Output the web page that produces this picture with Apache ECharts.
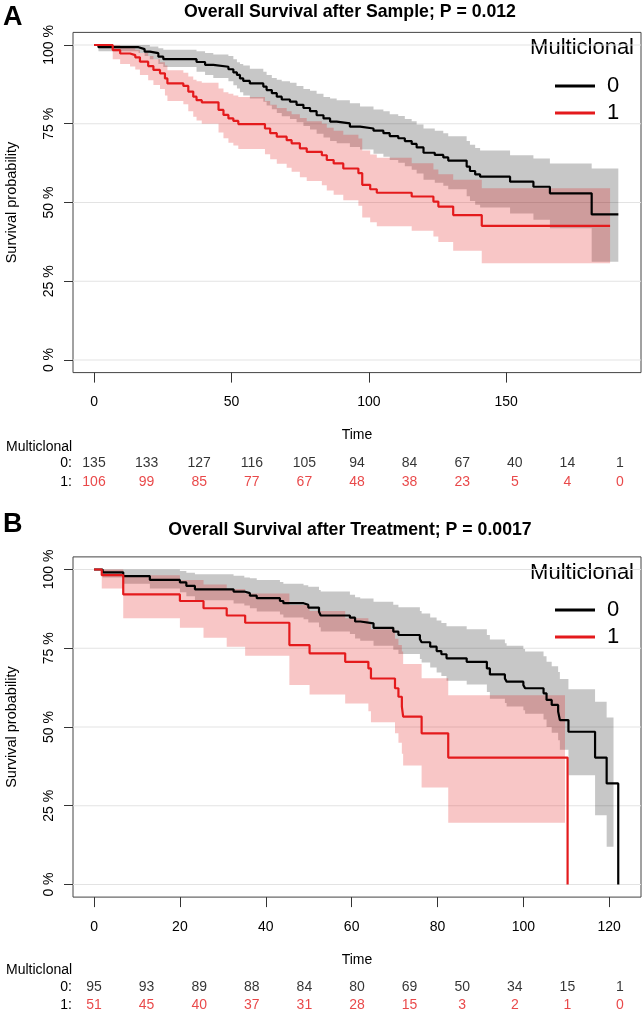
<!DOCTYPE html>
<html><head><meta charset="utf-8">
<script src="https://cdn.jsdelivr.net/npm/echarts@6/dist/echarts.min.js"></script>
<style>html,body{margin:0;padding:0;background:#fff}#c{width:643px;height:1014px}</style>
</head><body><div id="c"></div>
<script>
// ---------- DATA ----------
const titleA = 'Overall Survival after Sample; P = 0.012';
const titleB = 'Overall Survival after Treatment; P = 0.0017';
const groupNames = ['0', '1'];
const legendTitle = 'Multiclonal';
const yTicks = [0, 0.25, 0.5, 0.75, 1];
const xTicksA = [0, 50, 100, 150];
const xTicksB = [0, 20, 40, 60, 80, 100, 120];

// Panel A, group 0 (black)
const tA0 = [0,1.6,16.2,18.4,20.3,23.4,25.2,37.3,40.4,43.4,48.9,50.7,52.0,53.1,54.3,56.7,61.6,62.8,64.7,66.5,68.3,71.3,73.7,76.2,78.6,81.0,83.5,85.9,88.3,93.1,96.8,101.7,105.3,107.6,110.7,113.1,115.6,117.4,119.9,124.0,127.1,128.9,135.6,136.8,138.7,140.5,151.4,159.9,165.9,181.1];
const sA0 = [1,0.993,0.987,0.979,0.974,0.963,0.955,0.946,0.937,0.931,0.923,0.913,0.905,0.894,0.886,0.878,0.868,0.857,0.847,0.836,0.827,0.820,0.810,0.800,0.790,0.777,0.767,0.757,0.751,0.741,0.735,0.728,0.720,0.711,0.704,0.695,0.686,0.675,0.658,0.651,0.643,0.633,0.614,0.600,0.589,0.582,0.566,0.550,0.529,0.462];
const uA0 = [1,1,1,1,0.995,0.99,0.985,0.98,0.975,0.97,0.965,0.955,0.945,0.94,0.935,0.925,0.915,0.905,0.895,0.89,0.885,0.88,0.87,0.86,0.855,0.845,0.835,0.83,0.825,0.815,0.805,0.795,0.79,0.78,0.775,0.765,0.758,0.748,0.735,0.728,0.72,0.71,0.695,0.683,0.673,0.665,0.65,0.64,0.624,0.608];
const lA0 = [1,0.98,0.975,0.965,0.955,0.94,0.93,0.915,0.905,0.895,0.885,0.872,0.862,0.85,0.84,0.83,0.82,0.808,0.796,0.784,0.774,0.765,0.755,0.743,0.732,0.718,0.706,0.695,0.688,0.676,0.668,0.655,0.645,0.635,0.626,0.615,0.604,0.592,0.572,0.563,0.553,0.542,0.52,0.505,0.493,0.484,0.465,0.445,0.418,0.312];
const endA0 = 190.8;

// Panel A, group 1 (red)
const tA1 = [0,6.8,9.5,13.1,15.0,16.7,19.7,21.6,24.0,25.8,26.7,32.5,34.3,36.1,37.3,39.2,45.3,47.1,48.9,50.7,52.5,62.2,64.1,66.5,70.1,71.9,74.9,77.4,82.9,84.7,87.2,90.7,96.2,97.6,100.5,102.9,115.6,123.5,125.3,130.7,141.1];
const sA1 = [1,0.984,0.973,0.968,0.961,0.947,0.933,0.921,0.910,0.894,0.878,0.870,0.852,0.836,0.825,0.818,0.794,0.778,0.767,0.759,0.749,0.735,0.720,0.709,0.698,0.688,0.672,0.661,0.650,0.635,0.624,0.608,0.593,0.556,0.542,0.531,0.519,0.503,0.487,0.460,0.426];
const uA1 = [1,1,0.995,0.99,0.985,0.975,0.965,0.955,0.945,0.935,0.92,0.912,0.9,0.89,0.885,0.88,0.862,0.85,0.845,0.84,0.835,0.822,0.81,0.8,0.79,0.78,0.768,0.758,0.75,0.737,0.728,0.715,0.703,0.665,0.652,0.642,0.625,0.605,0.59,0.572,0.545];
const lA1 = [1,0.955,0.94,0.932,0.922,0.905,0.888,0.873,0.86,0.84,0.822,0.812,0.79,0.772,0.76,0.75,0.722,0.704,0.69,0.681,0.67,0.653,0.637,0.623,0.61,0.598,0.58,0.568,0.555,0.538,0.525,0.507,0.49,0.452,0.437,0.425,0.41,0.392,0.375,0.347,0.307];
const endA1 = 187.8;

// Panel B, group 0 (black)
const tB0 = [0,2.0,6.8,13.0,20.0,21.5,23.5,32.5,35.0,36.3,37.9,43.3,44.1,48.8,49.9,52.4,52.8,59.6,60.8,62.0,65.1,69.7,70.9,75.9,76.3,78.3,79.8,80.9,82.1,86.8,91.5,92.2,95.7,96.1,100.0,100.4,104.7,105.4,106.6,108.1,108.5,110.5,116.7,119.4,122.1];
const sB0 = [1,0.991,0.979,0.967,0.959,0.948,0.937,0.930,0.925,0.917,0.909,0.900,0.893,0.888,0.879,0.866,0.854,0.847,0.835,0.829,0.815,0.803,0.792,0.779,0.769,0.755,0.741,0.731,0.718,0.707,0.686,0.667,0.654,0.644,0.633,0.623,0.607,0.586,0.570,0.549,0.522,0.485,0.403,0.321,0];
const uB0 = [1,1,1,1,0.995,0.99,0.985,0.98,0.975,0.972,0.967,0.96,0.955,0.95,0.945,0.935,0.93,0.92,0.912,0.908,0.898,0.888,0.88,0.868,0.86,0.848,0.838,0.83,0.82,0.81,0.792,0.778,0.766,0.758,0.748,0.74,0.725,0.707,0.693,0.675,0.652,0.62,0.58,0.53];
const lB0 = [1,0.975,0.955,0.94,0.928,0.915,0.902,0.892,0.886,0.877,0.867,0.857,0.848,0.842,0.832,0.817,0.803,0.795,0.781,0.774,0.758,0.745,0.732,0.716,0.705,0.689,0.673,0.662,0.647,0.635,0.611,0.59,0.576,0.565,0.553,0.542,0.524,0.5,0.482,0.458,0.428,0.347,0.22,0.12];
const bandEndB0 = 121.0;

// Panel B, group 1 (red)
const tB1 = [0,1.8,6.8,20.0,25.5,30.9,35.2,45.5,50.2,58.5,63.9,64.5,70.1,70.9,71.7,72.0,76.3,82.5,110.3];
const sB1 = [1,0.982,0.921,0.900,0.877,0.854,0.831,0.760,0.734,0.707,0.686,0.654,0.623,0.596,0.565,0.533,0.480,0.403,0];
const uB1 = [1,1,0.982,0.967,0.952,0.938,0.924,0.887,0.868,0.845,0.83,0.81,0.78,0.76,0.74,0.70,0.655,0.601];
const lB1 = [1,0.94,0.845,0.815,0.783,0.755,0.726,0.633,0.603,0.575,0.55,0.515,0.48,0.45,0.415,0.378,0.308,0.196];
const bandEndB1 = 109.7;

// Numbers at risk
const riskRowLabels = ['1:', '0:'];
const riskA0 = [135,133,127,116,105,94,84,67,40,14,1];
const riskA1 = [106,99,85,77,67,48,38,23,5,4,0];
const riskB0 = [95,93,89,88,84,80,69,50,34,15,1];
const riskB1 = [51,45,40,37,31,28,15,3,2,1,0];

// ---------- STYLE ----------
const FONT = 'Liberation Sans, Arial, sans-serif';
const BLACK = '#000000';
const RED = '#E41A1C';
const GREY_BAND = 'rgba(0,0,0,0.22)';
const RED_BAND = 'rgba(228,26,28,0.25)';

function stepData(times, surv, endT) {
  const d = times.map((t, i) => [t, surv[i]]);
  if (endT != null) d.push([endT, surv[surv.length - 1]]);
  return d;
}
function bandSeries(times, upper, lower, endT, color, gi) {
  return {
    type: 'custom', xAxisIndex: gi, yAxisIndex: gi, silent: true, z: 2,
    data: [[0, 0]],
    renderItem: (params, api) => {
      const top = [], bot = [];
      for (let i = 0; i < upper.length; i++) {
        const x0 = times[i], x1 = (i + 1 < upper.length) ? times[i + 1] : endT;
        top.push(api.coord([x0, upper[i]]), api.coord([x1, upper[i]]));
        bot.push(api.coord([x0, lower[i]]), api.coord([x1, lower[i]]));
      }
      return { type: 'polygon', shape: { points: top.concat(bot.reverse()) }, style: { fill: color } };
    }
  };
}
function gridLineSeries(gi) {
  return {
    type: 'custom', xAxisIndex: gi, yAxisIndex: gi, silent: true, z: 1,
    data: yTicks.map(v => [0, v]),
    renderItem: (params, api) => {
      const cs = params.coordSys;
      const y = api.coord([0, api.value(1)])[1];
      return { type: 'line', shape: { x1: cs.x, y1: y, x2: cs.x + cs.width, y2: y },
               style: { stroke: '#e3e3e3', lineWidth: 1 } };
    }
  };
}
function lineSeries(name, data, color, gi) {
  return {
    type: 'line', name, step: 'end', data, color, xAxisIndex: gi, yAxisIndex: gi,
    showSymbol: false, symbol: 'none', z: 3, silent: true,
    lineStyle: { width: 2.2, color }
  };
}
function riskSeries(values, row, color, gi) {
  return {
    type: 'scatter', xAxisIndex: gi, yAxisIndex: gi, symbolSize: 1, silent: true,
    itemStyle: { color: 'transparent' },
    data: values.map((v, i) => [i, row, v]),
    label: { show: true, position: 'inside', formatter: p => String(p.value[2]),
             fontSize: 14, color, fontFamily: FONT }
  };
}
function plotXAxis(gi, min, max, ticks) {
  return {
    gridIndex: gi, type: 'value', min, max,
    axisLine: { show: false, onZero: false }, splitLine: { show: false },
    axisTick: { show: true, length: 10, customValues: ticks, lineStyle: { color: '#333' } },
    axisLabel: { customValues: ticks, fontSize: 14, color: '#000', margin: 23, fontFamily: FONT },
    name: 'Time', nameLocation: 'middle', nameGap: 56, nameMoveOverlap: false,
    nameTextStyle: { fontSize: 14, color: '#000', fontFamily: FONT }
  };
}
function plotYAxis(gi) {
  return {
    gridIndex: gi, type: 'value', min: -0.04, max: 1.04,
    axisLine: { show: false, onZero: false }, splitLine: { show: false },
    axisTick: { show: true, length: 9, customValues: yTicks, lineStyle: { color: '#333' } },
    axisLabel: { customValues: yTicks, rotate: 90, margin: 17, fontSize: 14, color: '#000',
                 fontFamily: FONT, formatter: v => Math.round(v * 100) + ' %' },
    name: 'Survival probability', nameLocation: 'middle', nameGap: 54, nameMoveOverlap: false,
    nameTextStyle: { fontSize: 14.5, color: '#000', fontFamily: FONT }
  };
}
function riskXAxis(gi, n) {
  return { gridIndex: gi, type: 'value', min: 0, max: n - 1, show: false };
}
function riskYAxis(gi) {
  return {
    gridIndex: gi, type: 'category', data: riskRowLabels,
    axisLine: { show: false }, axisTick: { show: false }, splitLine: { show: false },
    axisLabel: { interval: 0, margin: 22, fontSize: 14, color: '#000', fontFamily: FONT }
  };
}
function legendAt(top) {
  return {
    data: groupNames, orient: 'vertical', left: 550, top, icon: 'rect',
    itemWidth: 40, itemHeight: 3, itemGap: 5, selectedMode: false,
    textStyle: { fontSize: 22, lineHeight: 22, color: '#000', fontFamily: FONT, padding: [0, 0, 0, 7] }
  };
}
function txt(x, y, text, size, opts) {
  return {
    type: 'text', x, y, silent: true,
    style: Object.assign({ text, font: size + 'px ' + FONT, fill: '#000',
                           textVerticalAlign: 'middle', textAlign: 'left' }, opts || {})
  };
}
function plotGrid(top) {
  return { left: 73, top, width: 568, height: 340.2, show: true, borderColor: '#444', borderWidth: 1,
           backgroundColor: 'transparent', outerBoundsMode: 'none', containLabel: false };
}
function riskGrid(top, height) {
  return { left: 94, top, width: 526, height, outerBoundsMode: 'none', containLabel: false };
}

const option = {
  animation: false,
  backgroundColor: '#fff',
  grid: [plotGrid(32.4), riskGrid(453.5, 38), plotGrid(556.9), riskGrid(978, 36)],
  xAxis: [
    plotXAxis(0, -7.66, 199.05, xTicksA),
    riskXAxis(1, riskA0.length),
    plotXAxis(2, -4.9, 127.4, xTicksB),
    riskXAxis(3, riskB0.length)
  ],
  yAxis: [plotYAxis(0), riskYAxis(1), plotYAxis(2), riskYAxis(3)],
  legend: [legendAt(70), legendAt(594)],
  series: [
    gridLineSeries(0),
    bandSeries(tA0, uA0, lA0, endA0, GREY_BAND, 0),
    bandSeries(tA1, uA1, lA1, endA1, RED_BAND, 0),
    lineSeries(groupNames[0], stepData(tA0, sA0, endA0), BLACK, 0),
    lineSeries(groupNames[1], stepData(tA1, sA1, endA1), RED, 0),
    riskSeries(riskA0, '0:', BLACK, 1),
    riskSeries(riskA1, '1:', RED, 1),
    gridLineSeries(2),
    bandSeries(tB0, uB0, lB0, bandEndB0, GREY_BAND, 2),
    bandSeries(tB1, uB1, lB1, bandEndB1, RED_BAND, 2),
    lineSeries(groupNames[0], stepData(tB0, sB0), BLACK, 2),
    lineSeries(groupNames[1], stepData(tB1, sB1), RED, 2),
    riskSeries(riskB0, '0:', BLACK, 3),
    riskSeries(riskB1, '1:', RED, 3)
  ],
  graphic: [
    txt(3, 18, 'A', 27, { font: 'bold 27px ' + FONT }),
    txt(350, 12, titleA, 17.7, { font: 'bold 17.7px ' + FONT, textAlign: 'center' }),
    txt(634, 48, legendTitle, 22, { textAlign: 'right' }),
    txt(6, 447, legendTitle, 14),
    txt(3, 525, 'B', 27, { font: 'bold 27px ' + FONT }),
    txt(350, 530, titleB, 17.7, { font: 'bold 17.7px ' + FONT, textAlign: 'center' }),
    txt(634, 573, legendTitle, 22, { textAlign: 'right' }),
    txt(6, 970, legendTitle, 14)
  ]
};
const chart = echarts.init(document.getElementById('c'));
chart.setOption(option);
</script>
</body></html>
